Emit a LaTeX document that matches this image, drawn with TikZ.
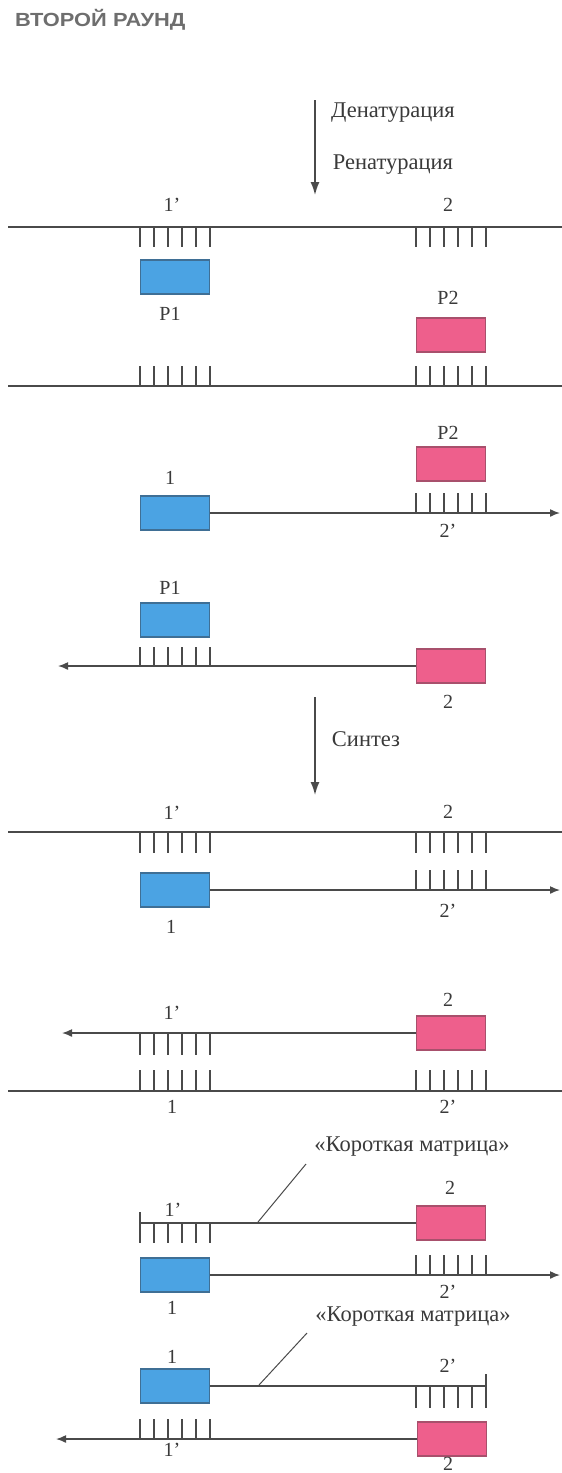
\documentclass[tikz,border=0pt]{standalone}
\usepackage{fontspec}
\setmainfont{Liberation Serif}
\newfontfamily\headfont{Liberation Sans}
\usepackage{graphicx}
\usepackage{tikz}
\usetikzlibrary{arrows.meta,positioning}
\definecolor{strand}{HTML}{4A4A4A}
\definecolor{inkgray}{HTML}{3A3A3A}
\definecolor{headgray}{HTML}{6E6E6E}
\definecolor{pfill}{HTML}{4BA3E3}
\definecolor{pedge}{HTML}{3F6F95}
\definecolor{qfill}{HTML}{EE5F8C}
\definecolor{qedge}{HTML}{A8506C}
\tikzset{
  pone/.style  ={draw=pedge,fill=pfill,line width=1.2pt,minimum width=69pt,
                 minimum height=34pt,inner sep=0pt},
  ptwo/.style  ={draw=qedge,fill=qfill,line width=1.2pt,minimum width=69pt,
                 minimum height=34pt,inner sep=0pt},
  dna/.style   ={line width=1.5pt,draw=strand},
  extend/.style={dna,-{Latex[length=10pt,width=8pt]}},
  tooth/.style ={line width=1.1pt,draw=strand},
  lbl/.style   ={font=\fontsize{20}{24}\selectfont,text=inkgray,inner sep=0pt},
  stage/.style ={line width=1.5pt,draw=strand,-{Latex[length=13pt,width=9pt]}},
  stagetxt/.style={font=\fontsize{22.5}{26}\selectfont,text=inkgray,inner sep=0pt},
  lead/.style  ={line width=1pt,draw=strand}
}
\newcommand\teeth[3]{\foreach \k in {0,...,5}{\draw[tooth] ({#1+14*\k},#2) -- ({#1+14*\k},#3);}}

\begin{document}
\begin{tikzpicture}[x=1pt,y=-1pt]
    \useasboundingbox (0,0) rectangle (562,1473);
    \node[font=\headfont\bfseries\fontsize{19}{21}\selectfont,text=headgray,
          anchor=west,inner sep=0pt] (title) at (15,20) {\scalebox{1.15}[1]{ВТОРОЙ РАУНД}};

    % denaturation / renaturation
    \coordinate (d0) at (315,100); \coordinate (d1) at (315,195);
    \draw[stage] (d0) -- (d1);
    \node[stagetxt] (den) at (393,113) {Денатурация};
    \node[stagetxt] (ren) at (393,165) {Ренатурация};

    \node[lbl] (la1) at (172,205) {1’};
    \node[lbl] (la2) at (448,205) {2};
    \draw[dna] (8,227) -- (562,227);
    \teeth{140}{227}{247} \teeth{416}{227}{247}
    \node[pone] (a1) at (175,277) {};
    \node[lbl] (la3) at (170,314) {P1};
    \node[lbl] (la4) at (448,298) {P2};
    \node[ptwo] (a2) at (451,335) {};
    \teeth{140}{366}{386} \teeth{416}{366}{386}
    \draw[dna] (8,386) -- (562,386);

    % primers annealed
    \node[lbl] (lb1) at (448,433) {P2};
    \node[ptwo] (b2) at (451,464) {};
    \teeth{416}{493}{513}
    \node[lbl] (lb2) at (170,478) {1};
    \node[pone] (b1) at (175,513) {};
    \coordinate (b1e) at (560,513);
    \draw[extend] (b1.east) -- (b1e);
    \node[lbl] (lb3) at (448,531) {2’};

    \node[lbl] (lb4) at (170,588) {P1};
    \node[pone] (b3) at (175,620) {};
    \teeth{140}{647}{666}
    \node[ptwo] (b4) at (451,666) {};
    \coordinate (b4e) at (58,666);
    \draw[extend] (b4.west) -- (b4e);
    \node[lbl] (lb5) at (448,702) {2};

    % synthesis
    \coordinate (s0) at (315,697); \coordinate (s1) at (315,795);
    \draw[stage] (s0) -- (s1);
    \node[stagetxt] (syn) at (366,739) {Синтез};

    \node[lbl] (lc1) at (172,813) {1’};
    \node[lbl] (lc2) at (448,812) {2};
    \draw[dna] (8,832) -- (562,832);
    \teeth{140}{832}{853} \teeth{416}{832}{853}
    \teeth{416}{870}{890}
    \node[pone] (c1) at (175,890) {};
    \coordinate (c1e) at (560,890);
    \draw[extend] (c1.east) -- (c1e);
    \node[lbl] (lc3) at (448,911) {2’};
    \node[lbl] (lc4) at (171,927) {1};

    \node[lbl] (ld1) at (448,1000) {2};
    \node[lbl] (ld2) at (172,1013) {1’};
    \node[ptwo] (d2) at (451,1033) {};
    \coordinate (d2e) at (62,1033);
    \draw[extend] (d2.west) -- (d2e);
    \teeth{140}{1033}{1055}
    \teeth{140}{1070}{1091} \teeth{416}{1070}{1091}
    \draw[dna] (8,1091) -- (562,1091);
    \node[lbl] (ld3) at (172,1107) {1};
    \node[lbl] (ld4) at (448,1107) {2’};

    % short templates
    \node[stagetxt] (st1) at (412,1147) {«Короткая матрица»};
    \coordinate (e0) at (140,1223);
    \coordinate (ep) at (258,1222);
    \draw[lead] (306,1164) -- (ep);
    \node[lbl] (le1) at (450,1188) {2};
    \node[lbl] (le2) at (173,1210) {1’};
    \node[ptwo] (e2) at (451,1223) {};
    \draw[dna] (e0) -- (e2.west);
    \draw[tooth] (140,1212) -- (140,1243);
    \teeth{140}{1223}{1243}
    \teeth{416}{1255}{1275}
    \node[pone] (e1) at (175,1275) {};
    \coordinate (e1e) at (560,1275);
    \draw[extend] (e1.east) -- (e1e);
    \node[lbl] (le3) at (448,1292) {2’};
    \node[lbl] (le4) at (172,1308) {1};

    \node[stagetxt] (st2) at (413,1317) {«Короткая матрица»};
    \coordinate (f0) at (486,1386);
    \coordinate (fp) at (259,1385);
    \draw[lead] (307,1333) -- (fp);
    \node[lbl] (lf1) at (172,1357) {1};
    \node[lbl] (lf2) at (448,1366) {2’};
    \node[pone] (f1) at (175,1386) {};
    \draw[dna] (f1.east) -- (f0);
    \draw[tooth] (486,1374) -- (486,1408);
    \teeth{416}{1386}{1408}
    \teeth{140}{1419}{1439}
    \node[ptwo] (f2) at (452,1439) {};
    \coordinate (f2e) at (56,1439);
    \draw[extend] (f2.west) -- (f2e);
    \node[lbl] (lf3) at (172,1450) {1’};
    \node[lbl,anchor=south] (lf4) at (448,1470.5) {2};
  \end{tikzpicture}
\end{document}
